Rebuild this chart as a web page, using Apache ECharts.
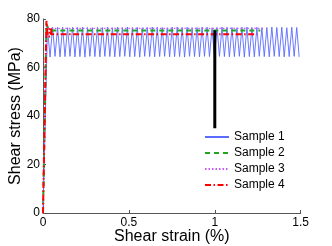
<!DOCTYPE html>
<html><head><meta charset="utf-8">
<script src="https://cdn.jsdelivr.net/npm/echarts@6/dist/echarts.min.js"></script>
<style>html,body{margin:0;padding:0;background:#fff}#c{width:332px;height:246px}</style>
</head><body><div id="c"></div>
<script>
var xTicks = [0, 0.5, 1, 1.5];
var yTicks = [0, 20, 40, 60, 80];
var seriesNames = ['Sample 1', 'Sample 2', 'Sample 3', 'Sample 4'];

var s1Strain = [0, 0.026, 0.041, 0.056, 0.070, 0.085, 0.099, 0.114, 0.128, 0.143, 0.157, 0.172, 0.186, 0.201, 0.215, 0.230, 0.244, 0.259, 0.273, 0.288, 0.302, 0.317, 0.331, 0.346, 0.360, 0.375, 0.389, 0.404, 0.418, 0.433, 0.447, 0.462, 0.476, 0.491, 0.505, 0.520, 0.534, 0.549, 0.563, 0.578, 0.592, 0.607, 0.621, 0.636, 0.650, 0.665, 0.679, 0.694, 0.708, 0.723, 0.737, 0.752, 0.766, 0.781, 0.795, 0.810, 0.824, 0.839, 0.853, 0.868, 0.882, 0.897, 0.911, 0.926, 0.940, 0.955, 0.969, 0.984, 0.998, 1.013, 1.027, 1.042, 1.056, 1.071, 1.085, 1.100, 1.114, 1.129, 1.143, 1.158, 1.172, 1.187, 1.201, 1.216, 1.230, 1.245, 1.259, 1.274, 1.288, 1.303, 1.317, 1.332, 1.346, 1.361, 1.375, 1.390, 1.404, 1.419, 1.433, 1.448, 1.462, 1.477, 1.491];
var s1Stress = [0, 76.4, 64.3, 76.6, 64.6, 76.5, 64.4, 76.7, 64.5, 76.4, 64.6, 76.6, 64.4, 76.5, 64.5, 76.7, 64.3, 76.5, 64.6, 76.4, 64.5, 76.6, 64.4, 76.5, 64.6, 76.7, 64.5, 76.4, 64.4, 76.6, 64.5, 76.5, 64.6, 76.7, 64.4, 76.5, 64.5, 76.6, 64.3, 76.4, 64.6, 76.5, 64.5, 76.7, 64.4, 76.6, 64.5, 76.5, 64.6, 76.4, 64.4, 76.6, 64.5, 76.7, 64.5, 76.5, 64.3, 76.6, 64.6, 76.4, 64.5, 76.5, 64.4, 76.7, 64.6, 76.6, 64.5, 76.4, 64.4, 76.5, 64.6, 76.7, 64.5, 76.6, 64.4, 76.5, 64.5, 76.4, 64.6, 76.6, 64.3, 76.7, 64.5, 76.5, 64.4, 76.6, 64.6, 76.4, 64.5, 76.5, 64.4, 76.7, 64.6, 76.5, 64.5, 76.6, 64.4, 76.4, 64.5, 76.6, 64.6, 76.5, 64.4];

var s2Strain = [0, 0.020, 0.030, 0.042, 1.265];
var s2Stress = [0, 78.0, 76.2, 75.3, 75.3];

var s3Strain = [0, 0.020, 0.035, 1.283];
var s3Stress = [0, 77.0, 76.1, 76.1];

var s4Strain = [0, 0.020, 0.025, 0.032, 0.045, 0.050, 0.042, 0.032, 0.048, 1.246];
var s4Stress = [0, 79.2, 74.5, 72.6, 73.0, 75.0, 76.6, 75.2, 73.7, 73.7];

var barStrain = [1.0, 1.0];
var barStress = [34.9, 75.4];

function pairs(xs, ys) { return xs.map(function (x, i) { return [x, ys[i]]; }); }

var font = 'Liberation Sans, Arial, sans-serif';
var chart = echarts.init(document.getElementById('c'), null, { renderer: 'canvas' });
chart.setOption({
  animation: false,
  grid: { left: 43, right: 31.3, top: 19, bottom: 33, containLabel: false, outerBoundsMode: 'none' },
  xAxis: {
    type: 'value', min: 0, max: 1.5, interval: 0.5,
    name: 'Shear strain (%)', nameLocation: 'middle', nameGap: 16, nameMoveOverlap: false,
    nameTextStyle: { fontFamily: font, fontSize: 16, color: '#000' },
    axisLine: { show: true, lineStyle: { color: '#555', width: 1 } },
    axisTick: { show: true, inside: true, length: 3, lineStyle: { color: '#555' } },
    axisLabel: { fontFamily: font, fontSize: 12, color: '#000', margin: 4,
      formatter: function (v) { return xTicks.indexOf(v) >= 0 ? String(v) : ''; } },
    splitLine: { show: false }
  },
  yAxis: {
    type: 'value', min: 0, max: 80, interval: 20,
    name: 'Shear stress (MPa)', nameLocation: 'middle', nameGap: 19, nameMoveOverlap: false,
    nameTextStyle: { fontFamily: font, fontSize: 16, color: '#000' },
    axisLine: { show: true, lineStyle: { color: '#555', width: 1 } },
    axisTick: { show: true, inside: true, length: 3, lineStyle: { color: '#555' } },
    axisLabel: { fontFamily: font, fontSize: 12, color: '#000', margin: 3,
      formatter: function (v) { return yTicks.indexOf(v) >= 0 ? String(v) : ''; } },
    splitLine: { show: false }
  },
  legend: {
    orient: 'vertical', left: 204, top: 131, padding: 0,
    itemWidth: 24, itemHeight: 12, itemGap: 4,
    data: seriesNames,
    itemStyle: { opacity: 0 },
    textStyle: { fontFamily: font, fontSize: 12, color: '#000' }
  },
  series: [
    { name: seriesNames[0], type: 'line', data: pairs(s1Strain, s1Stress), symbol: 'none',
      lineStyle: { color: '#5a6bff', width: 0.9 }, itemStyle: { color: '#5a6bff' }, z: 2 },
    { name: seriesNames[1], type: 'line', data: pairs(s2Strain, s2Stress), symbol: 'none',
      lineStyle: { color: '#1fa51f', width: 2, type: [5, 4] }, itemStyle: { color: '#1fa51f' }, z: 3 },
    { name: seriesNames[2], type: 'line', data: pairs(s3Strain, s3Stress), symbol: 'none',
      lineStyle: { color: '#cc55ff', width: 1.2, type: [1.5, 2] }, itemStyle: { color: '#cc55ff' }, z: 4 },
    { name: seriesNames[3], type: 'line', data: pairs(s4Strain, s4Stress), symbol: 'none',
      lineStyle: { color: '#ff0000', width: 2, type: [6, 2.5, 1.5, 2.5] }, itemStyle: { color: '#ff0000' }, z: 5 },
    { name: 'bar', type: 'line', data: pairs(barStrain, barStress), symbol: 'none',
      lineStyle: { color: '#000', width: 3 }, z: 6 }
  ]
});
</script></body></html>
